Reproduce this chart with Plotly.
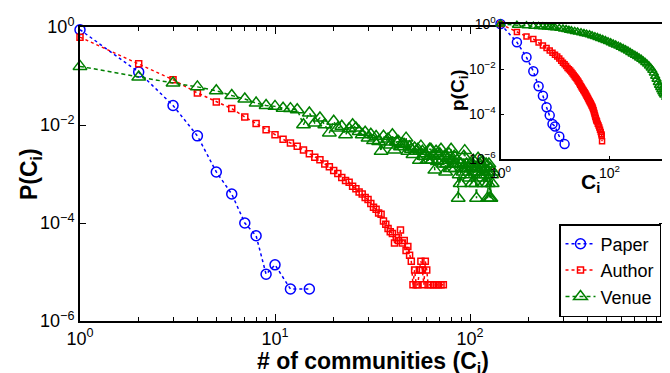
import plotly.graph_objects as go

# ---------------- data ----------------
paper_x = [1, 2, 3, 4, 5, 6, 7, 8, 9, 10, 12, 15]
paper_y = [0.88, 0.12, 0.025, 0.006, 0.0011, 3.9e-4, 1.0e-4, 5.5e-5, 9e-6, 1.4e-5, 4.5e-6, 4.5e-6]

author_x = list(range(1, 62)) + [63, 65, 67, 69, 71, 73]
author_y = [0.62, 0.178, 0.084, 0.045, 0.0295, 0.0216, 0.0146, 0.0107, 0.0080, 0.0063,
            0.0051, 0.0043, 0.0037, 0.0031, 0.0026, 0.0022, 0.00196, 0.0016, 0.0014, 0.00118,
            0.00102, 0.00085, 0.00074, 0.00068, 0.00056, 0.0005, 0.00043, 0.00039, 0.00033, 0.0003,
            0.00025, 0.00021, 0.00019, 0.00016, 0.00015, 1.1e-4, 9.4e-5, 7.7e-5, 6.6e-5, 6.1e-5,
            3.9e-5, 5.0e-5, 4.4e-5, 7.2e-5, 3.9e-5, 4.4e-5, 2.75e-5, 3.3e-5, 2.2e-5, 1.65e-5,
            5.5e-6, 1.1e-5, 5.5e-6, 5.5e-6, 1.1e-5, 1.65e-5, 1.1e-5, 5.5e-6, 1.65e-5, 1.1e-5,
            5.5e-6, 5.5e-6, 5.5e-6, 5.5e-6, 5.5e-6, 5.5e-6, 5.5e-6]

venue_x = list(range(1, 132))
venue_y = [0.157, 0.095, 0.072, 0.060, 0.050, 0.040, 0.034, 0.028, 0.025, 0.024,
           0.022, 0.0216, 0.0205, 0.0101, 0.0176, 0.011, 0.0139, 0.0101, 0.0069, 0.0119,
           0.0087, 0.0094, 0.0063, 0.0084, 0.0101, 0.0087, 0.0074, 0.0063, 0.0071, 0.0054,
           0.0065, 0.0048, 0.0058, 0.0046, 0.0029, 0.0059, 0.0045, 0.0052, 0.0039, 0.0063,
           0.0031, 0.0045, 0.0046, 0.0036, 0.0042, 0.0040, 0.0054, 0.0029, 0.0036, 0.0032,
           0.0025, 0.0034, 0.0029, 0.0032, 0.0019, 0.0037, 0.0029, 0.0023, 0.0026, 0.0019,
           0.0019, 0.0032, 0.0032, 0.0019, 0.0023, 0.0012, 0.0029, 0.0018, 0.0023, 0.0026,
           0.0032, 0.0019, 0.0016, 0.0023, 0.0011, 0.0016, 0.0021, 0.0026, 0.0013, 0.0032,
           0.0019, 0.0016, 0.0023, 0.0013, 0.0016, 0.0019, 0.00032, 0.00097, 0.00064, 0.0016,
           0.0013, 0.0011, 0.0023, 0.0030, 0.0013, 0.0016, 0.00097, 0.0013, 0.00083, 0.0016,
           0.0013, 0.00064, 0.0016, 0.0019, 0.0011, 0.0013, 0.00064, 0.00032, 0.0013, 0.0021,
           0.0011, 0.0016, 0.00097, 0.00083, 0.0013, 0.0018, 0.0011, 0.00064, 0.0013, 0.00097,
           0.0016, 0.0011, 0.00032, 0.00064, 0.0016, 0.00032, 0.0013, 0.00032, 0.00097, 0.00064,
           0.0011]

# inset: complementary cumulative distributions
paper_cc_x = [1, 2, 3, 4, 5, 6, 7, 8, 9, 10, 12, 15]
paper_cc_y = [1.0, 0.155, 0.033, 0.0079, 0.0017, 6.5e-4, 2.0e-4, 8.7e-5, 3.6e-5, 2.8e-5, 1.0e-5, 4.6e-6]

author_cc_x = list(range(1, 60)) + [61, 63, 65, 67, 69, 71, 72, 73]
author_cc_y = [1.0, 0.44, 0.28, 0.215, 0.15, 0.11, 0.085, 0.066, 0.053, 0.043,
               0.0355, 0.0295, 0.023, 0.019, 0.0162, 0.0135, 0.0112, 0.0098, 0.0085, 0.0073,
               0.0063, 0.0054, 0.0047, 0.0041, 0.0036, 0.0031, 0.0027, 0.0023, 0.002, 0.0017,
               0.0015, 0.00134, 0.00118, 0.00105, 0.00093, 0.00083, 0.00074, 0.00065, 0.00058, 0.00051,
               0.00046, 0.00041, 0.00037, 0.00033, 0.0003, 0.00027, 0.00024, 0.00022, 0.000195, 0.00017,
               0.000145, 0.000123, 0.000105, 0.000089, 0.000076, 0.000065, 0.000055, 0.00005, 0.000046,
               0.000037, 0.000031, 0.000025, 0.00002, 0.000016, 0.0000126, 0.000011, 0.0000061]

venue_cc_x = [1, 2, 3, 4, 5, 6, 7, 8, 9, 10, 12, 14, 16, 18, 20, 23, 26, 30, 34, 38,
              43, 48, 54, 60, 67, 75, 84, 94, 105, 117, 130, 145, 160, 178, 197, 218, 240, 265, 292, 320,
              350, 382, 416, 452, 490, 530, 570, 610, 650, 690, 730, 770, 810, 850, 890, 930, 970, 1010,
              1100, 1200, 1350, 1559]
venue_cc_y = [1.0, 0.88, 0.83, 0.80, 0.78, 0.76, 0.74, 0.72, 0.70, 0.68, 0.64, 0.60, 0.57, 0.53, 0.50,
              0.47, 0.44, 0.41, 0.38, 0.355, 0.33, 0.30, 0.275, 0.25, 0.225, 0.205, 0.185, 0.165, 0.148,
              0.13, 0.117, 0.104, 0.093, 0.082, 0.072, 0.063, 0.054, 0.047, 0.041, 0.036, 0.031, 0.027,
              0.023, 0.0195, 0.0165, 0.0135, 0.011, 0.0088, 0.0067, 0.0048, 0.0035, 0.0025, 0.0019,
              0.0015, 0.0012, 0.00098, 0.00082, 0.0007, 0.00055, 0.00045, 0.00038, 0.00031]

names = ["Paper", "Author", "Venue"]

# tick labels
main_xtick_vals = [1, 10, 100, 1000]
main_xtick_text = ["10<sup>0</sup>", "10<sup>1</sup>", "10<sup>2</sup>", "10<sup>3</sup>"]
main_ytick_vals = [1e-6, 1e-4, 1e-2, 1]
main_ytick_text = ["10<sup>\u22126</sup>", "10<sup>\u22124</sup>", "10<sup>\u22122</sup>", "10<sup>0</sup>"]
inset_xtick_vals = [1, 100]
inset_xtick_text = ["10<sup>0</sup>", "10<sup>2</sup>"]
inset_ytick_vals = [1e-6, 1e-4, 1e-2, 1]
inset_ytick_text = ["10<sup>\u22126</sup>", "10<sup>\u22124</sup>", "10<sup>\u22122</sup>", "10<sup>0</sup>"]

BLUE, RED, GREEN = "rgb(0,0,255)", "rgb(255,0,0)", "rgb(0,128,0)"

# ---------------- figure ----------------
W, H = 670, 373
def px_x(p):
    return p / W
def px_y(p):
    return 1 - p / H

FONT = "Liberation Sans, Arial, sans-serif"

fig = go.Figure()

fig.add_trace(go.Scatter(x=paper_x, y=paper_y, name=names[0], mode="lines+markers",
                         line=dict(color=BLUE, width=1.5, dash="3px,3px"),
                         marker=dict(symbol="circle-open", size=10, color=BLUE, line=dict(width=1.5)),
                         cliponaxis=False, xaxis="x", yaxis="y"))
fig.add_trace(go.Scatter(x=author_x, y=author_y, name=names[1], mode="lines+markers",
                         line=dict(color=RED, width=1.5, dash="3px,3px"),
                         marker=dict(symbol="square-open", size=6, color=RED, line=dict(width=1.5)),
                         cliponaxis=False, xaxis="x", yaxis="y"))
fig.add_trace(go.Scatter(x=venue_x, y=venue_y, name=names[2], mode="lines+markers",
                         line=dict(color=GREEN, width=1.5, dash="4px,3px"),
                         marker=dict(symbol="triangle-up-open", size=12, color=GREEN, line=dict(width=1.5)),
                         cliponaxis=False, xaxis="x", yaxis="y"))

fig.add_trace(go.Scatter(x=paper_cc_x, y=paper_cc_y, mode="lines+markers", showlegend=False,
                         line=dict(color=BLUE, width=1.5, dash="3px,3px"),
                         marker=dict(symbol="circle-open", size=9, color=BLUE, line=dict(width=1.5)),
                         cliponaxis=False, xaxis="x2", yaxis="y2"))
fig.add_trace(go.Scatter(x=author_cc_x, y=author_cc_y, mode="lines+markers", showlegend=False,
                         line=dict(color=RED, width=1.5, dash="3px,3px"),
                         marker=dict(symbol="square-open", size=5, color=RED, line=dict(width=1.5)),
                         cliponaxis=False, xaxis="x2", yaxis="y2"))
fig.add_trace(go.Scatter(x=venue_cc_x, y=venue_cc_y, mode="lines+markers", showlegend=False,
                         line=dict(color=GREEN, width=1.5, dash="4px,3px"),
                         marker=dict(symbol="triangle-up-open", size=8, color=GREEN, line=dict(width=1.5)),
                         cliponaxis=False, xaxis="x2", yaxis="y2"))

axis_common = dict(type="log", showgrid=False, zeroline=False, showline=True, linecolor="black",
                   linewidth=2, ticks="inside", tickcolor="black", tickwidth=1.2,
                   color="black", automargin=False, ticklabelstandoff=0)

fig.update_layout(
    width=W, height=H, margin=dict(l=0, r=0, t=0, b=0, autoexpand=False),
    paper_bgcolor="white", plot_bgcolor="white",
    font=dict(family=FONT, color="black"),
    xaxis=dict(axis_common, domain=[px_x(72), px_x(657)], range=[0, 3],
               tickvals=main_xtick_vals, ticktext=main_xtick_text,
               mirror="ticks", ticklen=7, anchor="y",
               minor=dict(ticks="inside", ticklen=4, tickwidth=1, tickcolor="black", dtick="D1"),
               tickfont=dict(size=18, family=FONT)),
    yaxis=dict(axis_common, domain=[px_y(313), px_y(19)], range=[-6, 0],
               tickvals=main_ytick_vals, ticktext=main_ytick_text,
               mirror="ticks", ticklen=6, anchor="x",
               tickfont=dict(size=18, family=FONT)),
    xaxis2=dict(axis_common, domain=[px_x(492.5), 1.0], range=[0, 3.257],
                tickvals=inset_xtick_vals, ticktext=inset_xtick_text,
                mirror=True, ticklen=3, anchor="y2",
                tickfont=dict(size=14, family=FONT)),
    yaxis2=dict(axis_common, domain=[px_y(151), px_y(16)], range=[-6, 0],
                tickvals=inset_ytick_vals, ticktext=inset_ytick_text,
                mirror=False, ticklen=3, anchor="x2",
                tickfont=dict(size=14, family=FONT)),
    legend=dict(x=px_x(653), y=px_y(216), xanchor="right", yanchor="top",
                bgcolor="white", bordercolor="black", borderwidth=1.5,
                font=dict(size=18, family=FONT, color="black"), tracegroupgap=0),
    annotations=[
        dict(text="<b># of communities (C<sub>i</sub>)</b>", x=px_x(364.5), y=px_y(354),
             xref="paper", yref="paper", showarrow=False, xanchor="center", yanchor="middle",
             font=dict(size=23, family=FONT, color="black")),
        dict(text="<b>P(C<sub>i</sub>)</b>", x=px_x(22), y=px_y(166), textangle=-90,
             xref="paper", yref="paper", showarrow=False, xanchor="center", yanchor="middle",
             font=dict(size=23, family=FONT, color="black")),
        dict(text="<b>C<sub>i</sub></b>", x=px_x(582), y=px_y(175),
             xref="paper", yref="paper", showarrow=False, xanchor="center", yanchor="middle",
             font=dict(size=21, family=FONT, color="black")),
        dict(text="<b>p(C<sub>i</sub>)</b>", x=px_x(451), y=px_y(82), textangle=-90,
             xref="paper", yref="paper", showarrow=False, xanchor="center", yanchor="middle",
             font=dict(size=19, family=FONT, color="black")),
    ],
)

fig.write_html("out.html")
